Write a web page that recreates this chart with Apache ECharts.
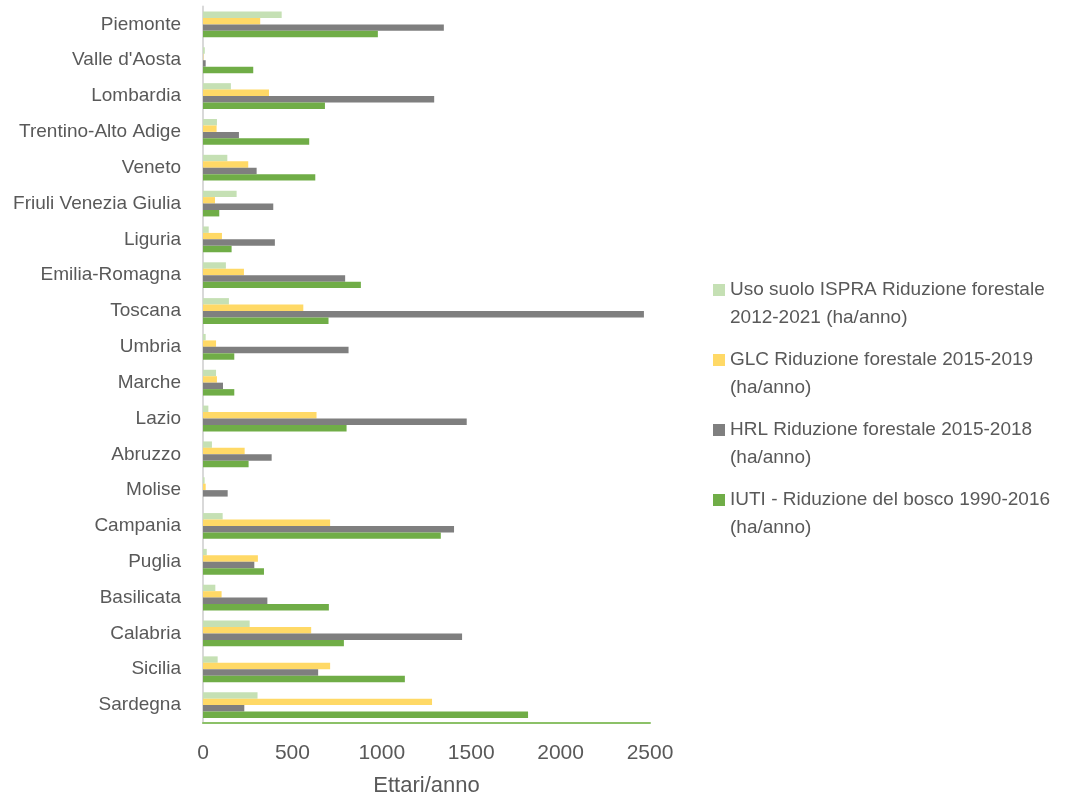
<!DOCTYPE html>
<html>
<head>
<meta charset="utf-8">
<script src="https://cdn.jsdelivr.net/npm/echarts@6/dist/echarts.min.js"></script>
<style>
html,body{margin:0;padding:0;background:#fff;}
#chart{width:1073px;height:802px;}
</style>
</head>
<body>
<div id="chart"></div>
<script>
const categories = ['Piemonte', "Valle d'Aosta", 'Lombardia', 'Trentino-Alto Adige', 'Veneto', 'Friuli Venezia Giulia', 'Liguria', 'Emilia-Romagna', 'Toscana', 'Umbria', 'Marche', 'Lazio', 'Abruzzo', 'Molise', 'Campania', 'Puglia', 'Basilicata', 'Calabria', 'Sicilia', 'Sardegna'];
const seriesNames = [
  'Uso suolo ISPRA Riduzione forestale\n2012-2021 (ha/anno)',
  'GLC Riduzione forestale 2015-2019\n(ha/anno)',
  'HRL Riduzione forestale 2015-2018\n(ha/anno)',
  'IUTI - Riduzione del bosco 1990-2016\n(ha/anno)'
];
const ispra = [440, 10, 156, 78, 136, 188, 32, 128, 145, 15, 73, 30, 50, 9, 110, 21, 69, 261, 82, 305];
const glc = [320, 2, 369, 76, 253, 67, 106, 229, 561, 73, 78, 635, 233, 15, 711, 307, 104, 605, 711, 1281];
const hrl = [1347, 15, 1293, 201, 300, 393, 402, 795, 2466, 814, 112, 1475, 384, 138, 1404, 287, 360, 1449, 644, 231];
const iuti = [978, 281, 682, 594, 628, 91, 160, 883, 702, 175, 175, 803, 255, 0, 1330, 341, 704, 788, 1129, 1818];
const xTicks = [0, 500, 1000, 1500, 2000, 2500];
const colors = ['#c5e0b4', '#ffd966', '#7f7f7f', '#70ad47'];
const FONT = '"Liberation Sans", Arial, sans-serif';

const chart = echarts.init(document.getElementById('chart'));
const values = [ispra, glc, hrl, iuti];
chart.setOption({
  animation: false,
  color: colors,
  grid: {left: 203, right: 423, top: 6.5, bottom: 79, containLabel: false},
  legend: {
    orient: 'vertical',
    left: 713,
    top: 248,
    padding: 0,
    itemWidth: 12,
    itemHeight: 12,
    itemGap: -14,
    icon: 'rect',
    data: seriesNames,
    formatter: name => ' \n' + name,
    textStyle: {fontFamily: FONT, fontSize: 19, color: '#595959', lineHeight: 28}
  },
  xAxis: {
    type: 'value',
    min: xTicks[0], max: xTicks[xTicks.length - 1], interval: 500,
    splitLine: {show: false},
    axisTick: {show: false},
    axisLine: {show: true, lineStyle: {color: '#8cc168', width: 2}},
    axisLabel: {fontFamily: FONT, fontSize: 21, color: '#595959', margin: 20, formatter: v => String(v)},
    name: 'Ettari/anno',
    nameLocation: 'middle',
    nameGap: 52,
    nameTextStyle: {fontFamily: FONT, fontSize: 22, color: '#595959'}
  },
  yAxis: {
    type: 'category',
    inverse: true,
    data: categories,
    axisTick: {show: false},
    axisLine: {show: true, lineStyle: {color: '#d9d9d9', width: 2}},
    axisLabel: {fontFamily: FONT, fontSize: 19, color: '#595959', margin: 22}
  },
  series: values.map((v, i) => ({
    name: seriesNames[i],
    type: 'bar',
    data: v,
    barGap: '0%',
    barCategoryGap: '28%',
    itemStyle: {color: colors[i]}
  }))
});
</script>
</body>
</html>
